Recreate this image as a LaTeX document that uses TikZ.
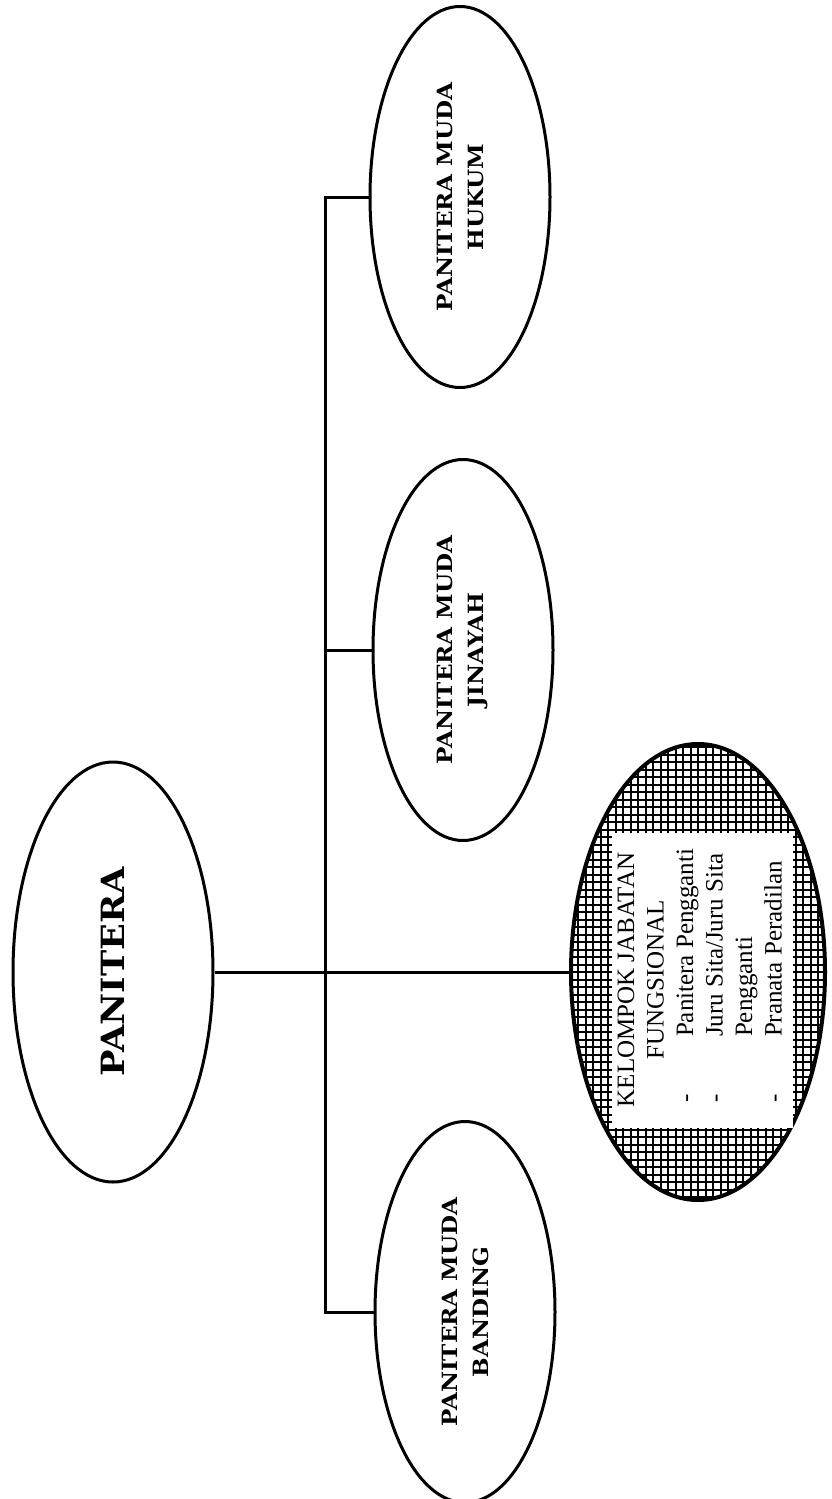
\documentclass[tikz,border=0pt]{standalone}
\usepackage{fontspec}
\usetikzlibrary{shapes.geometric}
\newfontfamily\labelfont{DejaVu Serif}[FakeStretch=1.1]
\newfontfamily\listfont{Liberation Serif}

\begin{document}
\begin{tikzpicture}[x=1pt,y=1pt,line width=3pt,
    oval/.style={ellipse,draw,rotate=90,inner sep=0pt,align=center},
    muda/.style={oval,minimum width=381,minimum height=180,
      font=\labelfont\bfseries\fontsize{21}{31}\selectfont},
    link/.style={line width=3pt},
    hatch/.style={path picture={\draw[line width=2pt,step=7.5pt]
      (path picture bounding box.south west) grid
      (path picture bounding box.north east);}}]
          \useasboundingbox (0,0) rectangle (831,-1499);
          \coordinate (spine) at (325,-972);
          \node[oval,minimum width=420,minimum height=200,
                font=\labelfont\bfseries\fontsize{32}{38}\selectfont] (panitera) at (113,-972) {PANITERA};
          \node[muda] (hukum)   at (460,-197)  {PANITERA MUDA\\HUKUM};
          \node[muda] (jinayah) at (463,-650)  {PANITERA MUDA\\JINAYAH};
          \node[muda] (banding) at (465,-1312) {PANITERA MUDA\\BANDING};
          \node[oval,hatch,line width=4pt,minimum width=456,minimum height=254] (kelompok) at (698,-972) {};
          \node[rotate=90,fill=white,inner sep=0pt,minimum width=295,minimum height=181,
                font=\listfont\fontsize{25}{29.5}\selectfont] (jabatan) at (702,-980)
               {\begin{tabular}{@{\hspace{9pt}}l@{\hspace{57pt}}l@{}}
                \multicolumn{2}{@{}c@{}}{KELOMPOK JABATAN}\\
                \multicolumn{2}{@{}c@{}}{FUNGSIONAL}\\
                - & Panitera Pengganti\\
                - & Juru Sita/Juru Sita\\
                  & Pengganti\\
                - & Pranata Peradilan
                \end{tabular}};
          \draw[link] (hukum.north) -| (spine) |- (banding.north);
          \draw[link] (jinayah.north) -- (jinayah.north -| spine);
          \draw[link] (panitera.south) -- (kelompok.north);
        \end{tikzpicture}
\end{document}
